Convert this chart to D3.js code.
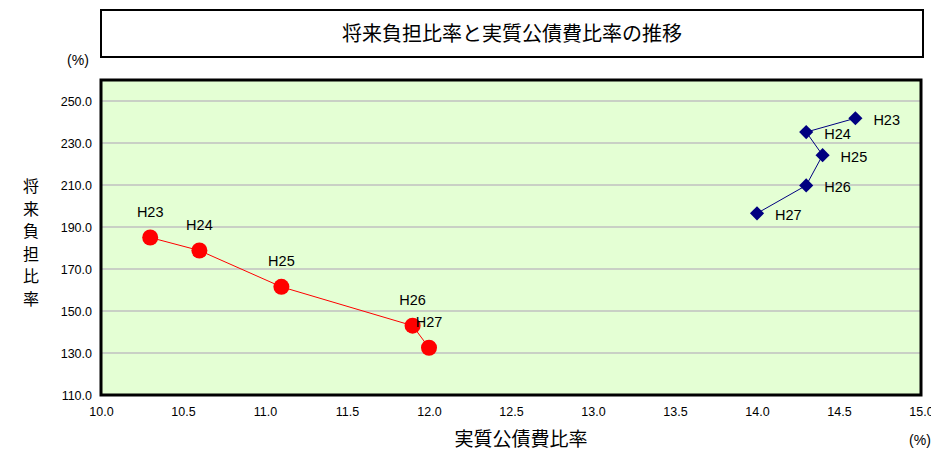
<!DOCTYPE html>
<html><head><meta charset="utf-8">
<script src="https://cdn.jsdelivr.net/npm/d3@7"></script>
<style>
body{margin:0;background:#fff;}
text{font-family:"Liberation Sans",Arial,sans-serif;}
.jp{font-family:"Noto Sans CJK JP","Noto Sans",sans-serif;}
</style></head><body>
<script>
const years = ["H23","H24","H25","H26","H27"];
const redX = [10.3, 10.6, 11.1, 11.9, 12.0];
const redY = [185.0, 178.8, 161.5, 143.0, 132.5];
const blueX = [14.6, 14.3, 14.4, 14.3, 14.0];
const blueY = [241.8, 235.2, 224.2, 209.8, 196.5];
const xTicks = [10.0,10.5,11.0,11.5,12.0,12.5,13.0,13.5,14.0,14.5,15.0];
const yTicks = [110,130,150,170,190,210,230,250];

const W=931,H=450;
const svg=d3.select("body").append("svg").attr("width",W).attr("height",H);
const L=101,R=921,T=80,B=395;
const x=d3.scaleLinear().domain([10,15]).range([L,R]);
const y=d3.scaleLinear().domain([110,260]).range([B,T]);

// title box
svg.append("rect").attr("x",101).attr("y",10).attr("width",822).attr("height",47)
  .attr("fill","#fff").attr("stroke","#000").attr("stroke-width",2);
svg.append("text").attr("class","jp").attr("x",512).attr("y",41).attr("text-anchor","middle")
  .attr("font-size",20).text("将来負担比率と実質公債費比率の推移");

// plot area
svg.append("rect").attr("x",L).attr("y",T).attr("width",R-L).attr("height",B-T)
  .attr("fill","#e4ffd4");
svg.append("g").selectAll("line").data(yTicks.filter(d=>d>110)).join("line")
  .attr("x1",L).attr("x2",R).attr("y1",d=>y(d)).attr("y2",d=>y(d))
  .attr("stroke","#c0c0c0").attr("stroke-width",1.5);
svg.append("rect").attr("x",L).attr("y",T).attr("width",R-L).attr("height",B-T)
  .attr("fill","none").attr("stroke","#000").attr("stroke-width",3);

// axes
const xa=d3.axisBottom(x).tickValues(xTicks).tickFormat(d3.format(".1f")).tickSize(0).tickPadding(12);
const gx=svg.append("g").attr("transform",`translate(0,${B})`).call(xa);
gx.select(".domain").remove();
gx.selectAll("text").attr("font-size",12.5).attr("fill","#000");
const ya=d3.axisLeft(y).tickValues(yTicks).tickFormat(d3.format(".1f")).tickSize(0).tickPadding(9);
const gy=svg.append("g").attr("transform",`translate(${L},0)`).call(ya);
gy.select(".domain").remove();
gy.selectAll("text").attr("font-size",12.5).attr("fill","#000");

// axis labels
svg.append("text").attr("x",78).attr("y",65).attr("text-anchor","middle").attr("font-size",14).text("(%)");
svg.append("text").attr("x",920).attr("y",445).attr("text-anchor","middle").attr("font-size",14).text("(%)");
svg.append("text").attr("class","jp").attr("x",521).attr("y",446).attr("text-anchor","middle")
  .attr("font-size",19).text("実質公債費比率");
const ylab="将来負担比率".split("");
svg.append("g").selectAll("text").data(ylab).join("text").attr("class","jp")
  .attr("x",31).attr("y",(d,i)=>192+i*22.5).attr("text-anchor","middle").attr("font-size",16).text(d=>d);

// red series
const redPts=years.map((k,i)=>({k,x:redX[i],y:redY[i]}));
const bluePts=years.map((k,i)=>({k,x:blueX[i],y:blueY[i]}));
const line=d3.line().x(d=>x(d.x)).y(d=>y(d.y));
svg.append("path").attr("d",line(redPts)).attr("fill","none").attr("stroke","#ff0000").attr("stroke-width",1);
svg.append("g").selectAll("circle").data(redPts).join("circle")
  .attr("cx",d=>x(d.x)).attr("cy",d=>y(d.y)).attr("r",8).attr("fill","#ff0000");
svg.append("g").selectAll("text").data(redPts).join("text")
  .attr("x",d=>x(d.x)).attr("y",d=>y(d.y)-21).attr("text-anchor","middle").attr("font-size",14.5).text(d=>d.k);

// blue series
svg.append("path").attr("d",line(bluePts)).attr("fill","none").attr("stroke","#000080").attr("stroke-width",1);
svg.append("g").selectAll("path.m").data(bluePts).join("path").attr("class","m")
  .attr("d",d3.symbol().type(d3.symbolSquare).size(100)).attr("transform",d=>`translate(${x(d.x)},${y(d.y)}) rotate(45)`)
  .attr("fill","#000080");
svg.append("g").selectAll("text").data(bluePts).join("text")
  .attr("x",d=>x(d.x)+18).attr("y",d=>y(d.y)+7).attr("font-size",14.5).text(d=>d.k);
</script></body></html>
